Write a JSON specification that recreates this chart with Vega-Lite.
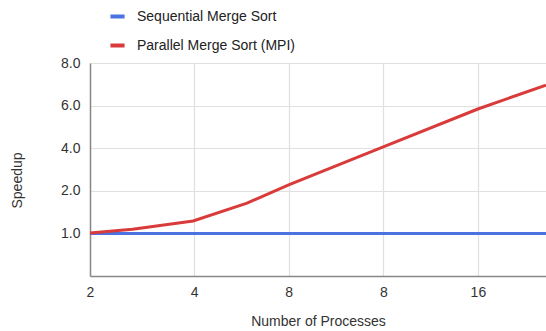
{
  "$schema": "https://vega.github.io/schema/vega-lite/v6.json",
  "width": 456,
  "height": 213,
  "autosize": {"type": "none"},
  "padding": {"left": 90, "top": 63, "right": 0, "bottom": 55},
  "config": {
    "view": {"stroke": null},
    "font": "Liberation Sans",
    "axis": {"labelFont": "Liberation Sans", "titleFont": "Liberation Sans", "labelFontSize": 14, "titleFontSize": 14, "labelColor": "#333", "titleColor": "#333", "titleFontWeight": "normal", "gridColor": "#e0e0e0", "gridWidth": 1.2}
  },
  "data": {"values": [
    {"series": "Sequential Merge Sort", "x": 0, "y": 1},
    {"series": "Sequential Merge Sort", "x": 4.82, "y": 1},
    {"series": "Parallel Merge Sort (MPI)", "x": 0, "y": 1.01},
    {"series": "Parallel Merge Sort (MPI)", "x": 0.45, "y": 1.1},
    {"series": "Parallel Merge Sort (MPI)", "x": 1.09, "y": 1.29},
    {"series": "Parallel Merge Sort (MPI)", "x": 1.66, "y": 1.71},
    {"series": "Parallel Merge Sort (MPI)", "x": 2.1, "y": 2.14},
    {"series": "Parallel Merge Sort (MPI)", "x": 3.1, "y": 3.03},
    {"series": "Parallel Merge Sort (MPI)", "x": 4.1, "y": 3.92},
    {"series": "Parallel Merge Sort (MPI)", "x": 4.82, "y": 4.48}
  ]},
  "mark": {"type": "line", "strokeWidth": 3, "clip": true},
  "encoding": {
    "x": {
      "field": "x", "type": "quantitative",
      "scale": {"domain": [0, 4.82], "nice": false, "zero": false},
      "axis": {
        "values": [0, 1.1, 2.1, 3.1, 4.1],
        "labelExpr": "datum.value == 0 ? '2' : datum.value == 1.1 ? '4' : datum.value == 2.1 ? '8' : datum.value == 3.1 ? '8' : '16'",
        "title": "Number of Processes",
        "ticks": false,
        "labelFlush": false,
        "labelPadding": 9,
        "titlePadding": 15,
        "domainColor": "#888",
        "domainWidth": 1.5
      }
    },
    "y": {
      "field": "y", "type": "quantitative",
      "scale": {"domain": [0, 5], "nice": false},
      "axis": {
        "values": [1, 2, 3, 4, 5],
        "labelExpr": "datum.value == 1 ? '1.0' : datum.value == 2 ? '2.0' : datum.value == 3 ? '4.0' : datum.value == 4 ? '6.0' : '8.0'",
        "title": "Speedup",
        "ticks": false,
        "labelFlush": false,
        "labelPadding": 10,
        "titleX": -66,
        "titleY": 117,
        "domainColor": "#888",
        "domainWidth": 1.5
      }
    },
    "color": {
      "field": "series", "type": "nominal",
      "scale": {"domain": ["Sequential Merge Sort", "Parallel Merge Sort (MPI)"], "range": ["#4a72e0", "#d93a3a"]},
      "legend": {
        "title": null,
        "orient": "none",
        "legendX": 18,
        "legendY": -56,
        "direction": "vertical",
        "symbolType": "stroke",
        "symbolStrokeWidth": 4,
        "symbolSize": 200,
        "labelFont": "Liberation Sans",
        "labelFontSize": 14,
        "labelColor": "#222",
        "labelOffset": 10,
        "rowPadding": 11
      }
    }
  }
}
